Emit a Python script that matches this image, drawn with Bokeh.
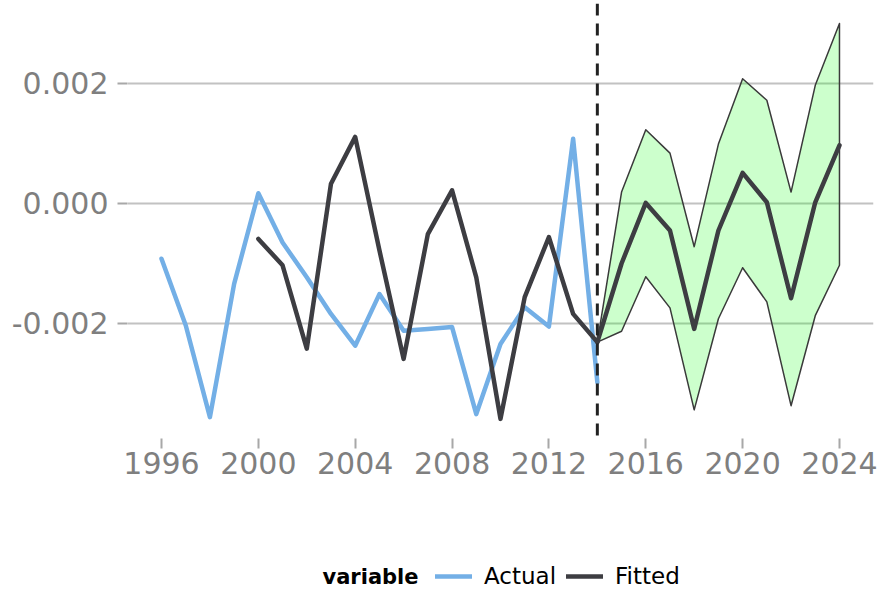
from bokeh.plotting import figure
from bokeh.layouts import column
from bokeh.models import (Range1d, FixedTicker, NumeralTickFormatter, Span,
                          Legend, LegendItem, Label)
from bokeh.embed import file_html
from bokeh.resources import INLINE

# ---- data ----
actual_years = list(range(1996, 2015))
actual = [-0.00092, -0.00203, -0.00356, -0.00134, 0.00017, -0.00065, -0.00123,
          -0.00184, -0.00237, -0.00151, -0.00212, -0.00209, -0.00206, -0.00351,
          -0.00234, -0.00173, -0.00205, 0.00108, -0.00298]

fitted_years = list(range(2000, 2015))
fitted = [-0.00059, -0.00103, -0.00242, 0.00033, 0.00111, -0.00078, -0.00259,
          -0.00051, 0.00022, -0.00123, -0.00359, -0.00156, -0.00056, -0.00184,
          -0.00231]

fc_years = list(range(2014, 2025))
fc_mean = [-0.00231, -0.00100, 0.00001, -0.00045, -0.00209, -0.00045, 0.00051,
           0.00002, -0.00158, 0.00002, 0.00097]
fc_upper = [-0.00231, 0.00019, 0.00123, 0.00084, -0.00072, 0.00099, 0.00208,
            0.00172, 0.00019, 0.00197, 0.00300]
fc_lower = [-0.00231, -0.00213, -0.00122, -0.00174, -0.00344, -0.00192, -0.00107,
            -0.00164, -0.00337, -0.00187, -0.00103]

forecast_start = 2014
x_ticks = [1996, 2000, 2004, 2008, 2012, 2016, 2020, 2024]
y_ticks = [-0.002, 0.0, 0.002]
legend_title = "variable"
series_names = ["Actual", "Fitted"]

BLUE = "#73AFE6"
DARK = "#3D3D42"
GRAY_TXT = "#7F7F7F"
GRID = "#C2C2C2"

p = figure(width=878, height=500, output_backend="svg", toolbar_location=None,
           x_range=Range1d(1994.596, 2025.405),
           y_range=Range1d(-0.0039167, 0.0033333),
           min_border_left=127, min_border_right=5, min_border_top=3,
           min_border_bottom=62)
p.outline_line_color = None
p.background_fill_color = "white"
p.border_fill_color = "white"

# band
p.patch(fc_years + fc_years[::-1], fc_upper + fc_lower[::-1],
        fill_color="lime", fill_alpha=0.2, line_color="#3a3a3a", line_width=1.5,
        line_join="round")

line_style = dict(line_width=4.5, line_join="round", line_cap="round")
p.line(actual_years, actual, line_color=BLUE, **line_style)
p.line(fitted_years, fitted, line_color=DARK, **line_style)
p.line(fc_years, fc_mean, line_color=DARK, **line_style)

p.add_layout(Span(location=forecast_start, dimension="height",
                  line_color="#222222", line_width=3, line_dash="12 8"))

# axes
p.xaxis.ticker = FixedTicker(ticks=x_ticks)
p.yaxis.ticker = FixedTicker(ticks=y_ticks)
p.yaxis.formatter = NumeralTickFormatter(format="0.000")
for ax in (p.xaxis, p.yaxis):
    ax.axis_line_color = None
    ax.minor_tick_line_color = None
    ax.major_tick_line_color = "#A8A8A8"
    ax.major_tick_line_width = 2
    ax.major_tick_in = 0
    ax.major_tick_out = 10
    ax.major_label_text_font = "DejaVu Sans"
    ax.major_label_text_font_size = "30px"
    ax.major_label_text_color = GRAY_TXT
p.xaxis.major_label_standoff = 3
p.yaxis.major_label_standoff = 9

p.xgrid.grid_line_color = None
p.ygrid.grid_line_color = GRID
p.ygrid.grid_line_width = 2

# ---- legend strip below the chart (frame aligned with the chart's frame) ----
lg = figure(width=878, height=89, output_backend="svg", toolbar_location=None,
            x_range=Range1d(0, 1), y_range=Range1d(0, 1),
            x_axis_type=None, y_axis_type=None,
            min_border_left=127, min_border_right=5, min_border_top=0,
            min_border_bottom=0)
lg.outline_line_color = None
lg.grid.grid_line_color = None
lg.background_fill_color = "white"
lg.border_fill_color = "white"

# same series, outside this strip's ranges: only their legend swatches show
k_act = lg.line(actual_years, actual, line_color=BLUE, **line_style)
k_fit = lg.line(fitted_years, fitted, line_color=DARK, **line_style)

legend = Legend(items=[LegendItem(label=series_names[0], renderers=[k_act]),
                       LegendItem(label=series_names[1], renderers=[k_fit])],
                orientation="horizontal", location=(308, -1),
                padding=0, margin=0, spacing=10, label_standoff=12,
                glyph_width=37, glyph_height=28, label_height=28,
                label_text_font="DejaVu Sans", label_text_font_size="23px",
                label_text_color="black", border_line_color=None,
                background_fill_alpha=0)
lg.add_layout(legend, "center")

lg.add_layout(Label(x=195, y=13, x_units="screen", y_units="screen",
                    text=legend_title, text_font="DejaVu Sans",
                    text_font_style="bold", text_font_size="21px",
                    text_color="black", text_baseline="middle"))

layout = column(p, lg, spacing=0)
open("out.html", "w").write(file_html(layout, INLINE))
